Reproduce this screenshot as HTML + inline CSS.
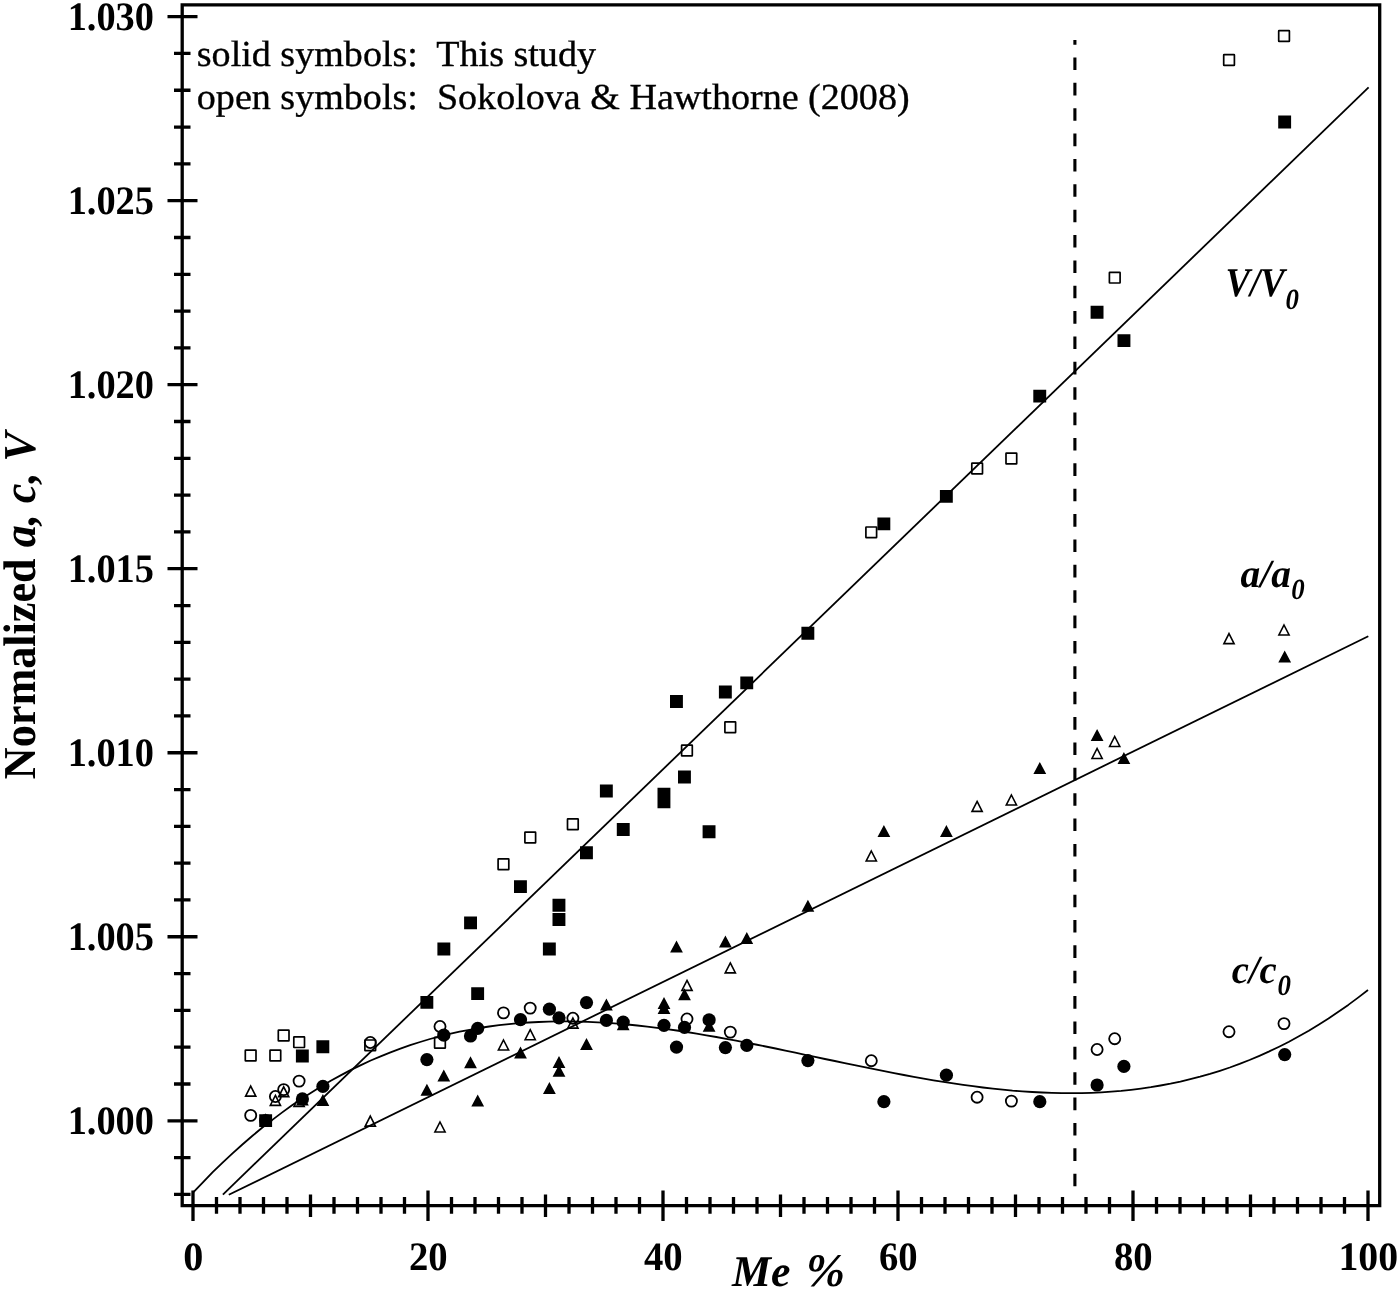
<!DOCTYPE html>
<html lang="en"><head><meta charset="utf-8"><title>Normalized a, c, V vs Me %</title>
<style>html,body{margin:0;padding:0;background:#fff}svg{display:block}text{text-rendering:geometricPrecision;font-family:"Liberation Serif","Times New Roman",Times,serif;fill:#000}</style></head><body>
<svg width="1400" height="1291" viewBox="0 0 1400 1291">
<rect width="1400" height="1291" fill="#fff"/>
<path d="M182.2 4.9H1379.7V1205.6H182.2Z" fill="none" stroke="#000" stroke-width="3.3" stroke-linejoin="miter"/>
<path d="M193.00 1190.5V1221.0M216.50 1197.0V1213.8M240.00 1197.0V1213.8M263.50 1197.0V1213.8M287.00 1197.0V1213.8M310.50 1194.5V1217.0M334.00 1197.0V1213.8M357.50 1197.0V1213.8M381.00 1197.0V1213.8M404.50 1197.0V1213.8M428.00 1190.5V1221.0M451.50 1197.0V1213.8M475.00 1197.0V1213.8M498.50 1197.0V1213.8M522.00 1197.0V1213.8M545.50 1194.5V1217.0M569.00 1197.0V1213.8M592.50 1197.0V1213.8M616.00 1197.0V1213.8M639.50 1197.0V1213.8M663.00 1190.5V1221.0M686.50 1197.0V1213.8M710.00 1197.0V1213.8M733.50 1197.0V1213.8M757.00 1197.0V1213.8M780.50 1194.5V1217.0M804.00 1197.0V1213.8M827.50 1197.0V1213.8M851.00 1197.0V1213.8M874.50 1197.0V1213.8M898.00 1190.5V1221.0M921.50 1197.0V1213.8M945.00 1197.0V1213.8M968.50 1197.0V1213.8M992.00 1197.0V1213.8M1015.50 1194.5V1217.0M1039.00 1197.0V1213.8M1062.50 1197.0V1213.8M1086.00 1197.0V1213.8M1109.50 1197.0V1213.8M1133.00 1190.5V1221.0M1156.50 1197.0V1213.8M1180.00 1197.0V1213.8M1203.50 1197.0V1213.8M1227.00 1197.0V1213.8M1250.50 1194.5V1217.0M1274.00 1197.0V1213.8M1297.50 1197.0V1213.8M1321.00 1197.0V1213.8M1344.50 1197.0V1213.8M1368.00 1190.5V1221.0M174.0 1194.41H190.5M174.0 1157.61H190.5M167.5 1120.80H197.5M174.0 1083.99H190.5M174.0 1047.19H190.5M174.0 1010.38H190.5M174.0 973.58H190.5M167.5 936.77H197.5M174.0 899.97H190.5M174.0 863.16H190.5M174.0 826.36H190.5M174.0 789.55H190.5M167.5 752.75H197.5M174.0 715.94H190.5M174.0 679.14H190.5M174.0 642.34H190.5M174.0 605.53H190.5M167.5 568.72H197.5M174.0 531.92H190.5M174.0 495.12H190.5M174.0 458.31H190.5M174.0 421.50H190.5M167.5 384.70H197.5M174.0 347.89H190.5M174.0 311.09H190.5M174.0 274.28H190.5M174.0 237.48H190.5M167.5 200.67H197.5M174.0 163.87H190.5M174.0 127.06H190.5M174.0 90.26H190.5M174.0 53.45H190.5M167.5 16.65H197.5" fill="none" stroke="#000" stroke-width="3.3"/>
<path d="M1074.9 1186.3V40" fill="none" stroke="#000" stroke-width="3.1" stroke-dasharray="12.6 12.77"/>
<path d="M222.9 1194.6L1368.6 87.4" fill="none" stroke="#000" stroke-width="1.8"/>
<path d="M228.8 1194.8L1368.3 636.2" fill="none" stroke="#000" stroke-width="1.8"/>
<path d="M193.0 1192.7L202.9 1182.3L212.7 1172.2L222.6 1162.6L232.5 1153.4L242.4 1144.5L252.2 1136.0L262.1 1127.8L272.0 1120.1L281.9 1112.6L291.7 1105.5L301.6 1098.8L311.5 1092.4L321.4 1086.3L331.2 1080.5L341.1 1075.1L351.0 1069.9L360.9 1065.1L370.7 1060.5L380.6 1056.3L390.5 1052.3L400.4 1048.6L410.2 1045.1L420.1 1042.0L430.0 1039.0L439.8 1036.4L449.7 1033.9L459.6 1031.7L469.5 1029.8L479.3 1028.0L489.2 1026.5L499.1 1025.2L509.0 1024.1L518.8 1023.2L528.7 1022.5L538.6 1022.0L548.5 1021.6L558.3 1021.4L568.2 1021.4L578.1 1021.6L588.0 1021.9L597.8 1022.3L607.7 1022.9L617.6 1023.7L627.5 1024.5L637.3 1025.5L647.2 1026.6L657.1 1027.8L666.9 1029.1L676.8 1030.5L686.7 1032.0L696.6 1033.6L706.4 1035.3L716.3 1037.0L726.2 1038.8L736.1 1040.7L745.9 1042.6L755.8 1044.5L765.7 1046.5L775.6 1048.5L785.4 1050.6L795.3 1052.7L805.2 1054.8L815.1 1056.9L824.9 1059.0L834.8 1061.0L844.7 1063.1L854.6 1065.2L864.4 1067.2L874.3 1069.2L884.2 1071.2L894.1 1073.1L903.9 1075.0L913.8 1076.8L923.7 1078.6L933.5 1080.3L943.4 1081.9L953.3 1083.4L963.2 1084.9L973.0 1086.2L982.9 1087.5L992.8 1088.6L1002.7 1089.6L1012.5 1090.6L1022.4 1091.3L1032.3 1092.0L1042.2 1092.5L1052.0 1092.9L1061.9 1093.1L1071.8 1093.2L1081.7 1093.1L1091.5 1092.8L1101.4 1092.3L1111.3 1091.7L1121.2 1090.9L1131.0 1089.8L1140.9 1088.6L1150.8 1087.2L1160.6 1085.5L1170.5 1083.7L1180.4 1081.6L1190.3 1079.2L1200.1 1076.7L1210.0 1073.9L1219.9 1070.8L1229.8 1067.5L1239.6 1063.9L1249.5 1060.0L1259.4 1055.8L1269.3 1051.4L1279.1 1046.7L1289.0 1041.7L1298.9 1036.3L1308.8 1030.7L1318.6 1024.7L1328.5 1018.5L1338.4 1011.8L1348.3 1004.9L1358.1 997.6L1368.0 990.0" fill="none" stroke="#000" stroke-width="1.8" stroke-linejoin="round"/>
<g fill="none" stroke="#000" stroke-linejoin="miter"><path d="M250.7 1086.1L255.8 1096.1H245.6Z" stroke-width="1.6"/><circle cx="250.7" cy="1115.4" r="5.55" stroke-width="1.8"/><rect x="245.3" y="1050.1" width="10.7" height="10.7" rx="0.4" stroke-width="1.7"/><path d="M275.4 1095.4L280.5 1105.4H270.3Z" stroke-width="1.6"/><circle cx="275.4" cy="1096.5" r="5.55" stroke-width="1.8"/><rect x="270.0" y="1050.1" width="10.7" height="10.7" rx="0.4" stroke-width="1.7"/><path d="M283.7 1086.8L288.8 1096.8H278.6Z" stroke-width="1.6"/><circle cx="283.7" cy="1089.6" r="5.55" stroke-width="1.8"/><rect x="278.3" y="1030.1" width="10.7" height="10.7" rx="0.4" stroke-width="1.7"/><path d="M299.1 1096.4L304.2 1106.4H294.0Z" stroke-width="1.6"/><circle cx="299.1" cy="1081.1" r="5.55" stroke-width="1.8"/><rect x="293.8" y="1036.8" width="10.7" height="10.7" rx="0.4" stroke-width="1.7"/><path d="M370.3 1116.1L375.4 1126.1H365.2Z" stroke-width="1.6"/><circle cx="370.3" cy="1042.5" r="5.55" stroke-width="1.8"/><rect x="364.9" y="1040.0" width="10.7" height="10.7" rx="0.4" stroke-width="1.7"/><path d="M440.0 1122.0L445.1 1132.0H434.9Z" stroke-width="1.6"/><circle cx="440.0" cy="1026.5" r="5.55" stroke-width="1.8"/><rect x="434.6" y="1037.4" width="10.7" height="10.7" rx="0.4" stroke-width="1.7"/><path d="M503.5 1040.0L508.6 1050.0H498.4Z" stroke-width="1.6"/><circle cx="503.5" cy="1012.9" r="5.55" stroke-width="1.8"/><rect x="498.1" y="858.9" width="10.7" height="10.7" rx="0.4" stroke-width="1.7"/><path d="M530.2 1029.7L535.3 1039.7H525.1Z" stroke-width="1.6"/><circle cx="530.2" cy="1008.1" r="5.55" stroke-width="1.8"/><rect x="524.9" y="832.2" width="10.7" height="10.7" rx="0.4" stroke-width="1.7"/><path d="M572.9 1018.1L578.0 1028.1H567.8Z" stroke-width="1.6"/><circle cx="572.9" cy="1018.2" r="5.55" stroke-width="1.8"/><rect x="567.5" y="818.9" width="10.7" height="10.7" rx="0.4" stroke-width="1.7"/><path d="M687.0 980.4L692.1 990.4H681.9Z" stroke-width="1.6"/><circle cx="687.0" cy="1019.0" r="5.55" stroke-width="1.8"/><rect x="681.6" y="745.2" width="10.7" height="10.7" rx="0.4" stroke-width="1.7"/><path d="M730.3 962.9L735.4 972.9H725.2Z" stroke-width="1.6"/><circle cx="730.3" cy="1032.1" r="5.55" stroke-width="1.8"/><rect x="724.9" y="721.9" width="10.7" height="10.7" rx="0.4" stroke-width="1.7"/><path d="M871.3 851.0L876.4 861.0H866.2Z" stroke-width="1.6"/><circle cx="871.3" cy="1060.7" r="5.55" stroke-width="1.8"/><rect x="865.9" y="527.0" width="10.7" height="10.7" rx="0.4" stroke-width="1.7"/><path d="M977.1 801.4L982.2 811.4H972.0Z" stroke-width="1.6"/><circle cx="977.1" cy="1097.2" r="5.55" stroke-width="1.8"/><rect x="971.8" y="463.2" width="10.7" height="10.7" rx="0.4" stroke-width="1.7"/><path d="M1011.4 795.0L1016.5 805.0H1006.3Z" stroke-width="1.6"/><circle cx="1011.4" cy="1101.1" r="5.55" stroke-width="1.8"/><rect x="1006.0" y="453.1" width="10.7" height="10.7" rx="0.4" stroke-width="1.7"/><path d="M1097.1 748.5L1102.2 758.5H1092.0Z" stroke-width="1.6"/><circle cx="1097.1" cy="1049.5" r="5.55" stroke-width="1.8"/><path d="M1114.7 736.5L1119.8 746.5H1109.6Z" stroke-width="1.6"/><circle cx="1114.7" cy="1038.7" r="5.55" stroke-width="1.8"/><rect x="1109.4" y="272.3" width="10.7" height="10.7" rx="0.4" stroke-width="1.7"/><path d="M1229.0 633.6L1234.1 643.6H1223.9Z" stroke-width="1.6"/><circle cx="1229.0" cy="1031.7" r="5.55" stroke-width="1.8"/><rect x="1223.7" y="54.6" width="10.7" height="10.7" rx="0.4" stroke-width="1.7"/><path d="M1284.0 625.0L1289.1 635.0H1278.9Z" stroke-width="1.6"/><circle cx="1284.0" cy="1023.6" r="5.55" stroke-width="1.8"/><rect x="1278.7" y="30.6" width="10.7" height="10.7" rx="0.4" stroke-width="1.7"/></g>
<path d="M265.7 1113.3L272.1 1125.3H259.3ZM259.2 1114.2h12.9v12.9h-12.9ZM302.4 1093.4L308.8 1105.4H296.0ZM295.9 1049.5h12.9v12.9h-12.9ZM322.9 1094.0L329.3 1106.0H316.5ZM316.4 1040.3h12.9v12.9h-12.9ZM426.9 1083.7L433.3 1095.7H420.5ZM420.4 995.9h12.9v12.9h-12.9ZM443.8 1069.6L450.2 1081.6H437.4ZM437.4 942.5h12.9v12.9h-12.9ZM470.5 1056.2L476.9 1068.2H464.1ZM464.1 916.4h12.9v12.9h-12.9ZM477.7 1094.6L484.1 1106.6H471.3ZM471.2 987.2h12.9v12.9h-12.9ZM520.5 1046.6L526.9 1058.6H514.1ZM514.0 880.2h12.9v12.9h-12.9ZM549.4 1081.9L555.8 1093.9H543.0ZM542.9 942.5h12.9v12.9h-12.9ZM559.0 1064.8L565.4 1076.8H552.6ZM559.0 1055.9L565.4 1067.9H552.6ZM552.5 913.1h12.9v12.9h-12.9ZM552.5 898.8h12.9v12.9h-12.9ZM586.5 1038.0L592.9 1050.0H580.1ZM580.0 846.3h12.9v12.9h-12.9ZM606.4 998.4L612.8 1010.4H600.0ZM599.9 784.6h12.9v12.9h-12.9ZM623.2 1018.3L629.6 1030.3H616.8ZM616.8 823.1h12.9v12.9h-12.9ZM664.0 1002.0L670.4 1014.0H657.6ZM664.0 996.9L670.4 1008.9H657.6ZM657.5 787.8h12.9v12.9h-12.9ZM657.5 795.3h12.9v12.9h-12.9ZM676.5 940.5L682.9 952.5H670.1ZM670.0 695.0h12.9v12.9h-12.9ZM684.5 988.3L690.9 1000.3H678.1ZM678.0 770.6h12.9v12.9h-12.9ZM709.1 1019.8L715.5 1031.8H702.7ZM702.6 825.3h12.9v12.9h-12.9ZM725.4 935.6L731.8 947.6H719.0ZM718.9 685.6h12.9v12.9h-12.9ZM746.8 931.9L753.2 943.9H740.4ZM740.3 676.4h12.9v12.9h-12.9ZM807.9 899.8L814.3 911.8H801.5ZM801.4 626.8h12.9v12.9h-12.9ZM883.9 825.1L890.3 837.1H877.5ZM877.4 517.4h12.9v12.9h-12.9ZM946.4 825.1L952.8 837.1H940.0ZM939.9 489.9h12.9v12.9h-12.9ZM1039.8 761.9L1046.2 773.9H1033.4ZM1033.3 389.7h12.9v12.9h-12.9ZM1097.1 729.1L1103.5 741.1H1090.7ZM1090.6 305.8h12.9v12.9h-12.9ZM1123.9 752.0L1130.3 764.0H1117.5ZM1117.5 334.2h12.9v12.9h-12.9ZM1284.7 650.4L1291.1 662.4H1278.3ZM1278.2 115.5h12.9v12.9h-12.9Z" fill="#000"/>
<g fill="#000"><circle cx="265.7" cy="1120.5" r="6.6"/><circle cx="302.4" cy="1098.9" r="6.6"/><circle cx="322.9" cy="1086.4" r="6.6"/><circle cx="426.9" cy="1059.6" r="6.6"/><circle cx="443.8" cy="1035.2" r="6.6"/><circle cx="470.5" cy="1036.0" r="6.6"/><circle cx="477.7" cy="1028.3" r="6.6"/><circle cx="520.5" cy="1019.7" r="6.6"/><circle cx="549.4" cy="1009.2" r="6.6"/><circle cx="559.0" cy="1017.8" r="6.6"/><circle cx="586.5" cy="1002.6" r="6.6"/><circle cx="606.4" cy="1020.4" r="6.6"/><circle cx="623.2" cy="1022.1" r="6.6"/><circle cx="664.0" cy="1025.3" r="6.6"/><circle cx="676.5" cy="1047.1" r="6.6"/><circle cx="684.5" cy="1027.4" r="6.6"/><circle cx="709.1" cy="1019.9" r="6.6"/><circle cx="725.4" cy="1047.6" r="6.6"/><circle cx="746.8" cy="1045.4" r="6.6"/><circle cx="807.9" cy="1060.6" r="6.6"/><circle cx="883.9" cy="1101.7" r="6.6"/><circle cx="946.4" cy="1075.2" r="6.6"/><circle cx="1039.8" cy="1101.7" r="6.6"/><circle cx="1097.1" cy="1085.0" r="6.6"/><circle cx="1123.9" cy="1066.4" r="6.6"/><circle cx="1284.7" cy="1054.6" r="6.6"/></g>
<text transform="translate(193.3 1270.4) scale(0.995 1)" font-weight="bold" font-size="40.4" text-anchor="middle">0</text>
<text transform="translate(428.3 1270.4) scale(0.958 1)" font-weight="bold" font-size="40.4" text-anchor="middle">20</text>
<text transform="translate(663.3 1270.4) scale(0.958 1)" font-weight="bold" font-size="40.4" text-anchor="middle">40</text>
<text transform="translate(898.3 1270.4) scale(0.958 1)" font-weight="bold" font-size="40.4" text-anchor="middle">60</text>
<text transform="translate(1133.3 1270.4) scale(0.958 1)" font-weight="bold" font-size="40.4" text-anchor="middle">80</text>
<text transform="translate(1368.3 1270.4) scale(0.985 1)" font-weight="bold" font-size="40.4" text-anchor="middle">100</text>
<text transform="translate(154 1134.1) scale(0.95 1)" font-weight="bold" font-size="40.4" text-anchor="end">1.000</text>
<text transform="translate(154 950.1) scale(0.95 1)" font-weight="bold" font-size="40.4" text-anchor="end">1.005</text>
<text transform="translate(154 766.0) scale(0.95 1)" font-weight="bold" font-size="40.4" text-anchor="end">1.010</text>
<text transform="translate(154 582.0) scale(0.95 1)" font-weight="bold" font-size="40.4" text-anchor="end">1.015</text>
<text transform="translate(154 398.0) scale(0.95 1)" font-weight="bold" font-size="40.4" text-anchor="end">1.020</text>
<text transform="translate(154 214.0) scale(0.95 1)" font-weight="bold" font-size="40.4" text-anchor="end">1.025</text>
<text transform="translate(154 29.9) scale(0.95 1)" font-weight="bold" font-size="40.4" text-anchor="end">1.030</text>
<text transform="translate(34.7 779.2) rotate(-90) scale(0.967 1)" font-weight="bold" font-size="45.7" xml:space="preserve" style="white-space:pre">Normalized <tspan font-style="italic">a, c, V</tspan></text>
<text transform="translate(732 1286.3)" font-weight="bold" font-style="italic" font-size="43.8" xml:space="preserve" style="white-space:pre">Me<tspan font-size="46.8" dx="4"> %</tspan></text>
<text transform="translate(196.8 65.7) scale(1.041 1)" font-size="36.6" stroke="#000" stroke-width="0.35" xml:space="preserve" style="white-space:pre">solid symbols:  This study</text>
<text transform="translate(196.8 109) scale(1.041 1)" font-size="36.6" stroke="#000" stroke-width="0.35" xml:space="preserve" style="white-space:pre">open symbols:  Sokolova &amp; Hawthorne (2008)</text>
<text transform="translate(1225.6 296.3) scale(0.9 1)" font-weight="bold" font-style="italic" font-size="40.8">V/V</text>
<text transform="translate(1285.5 309) scale(0.92 1)" font-weight="bold" font-style="italic" font-size="29.2">0</text>
<text transform="translate(1240.5 587) scale(0.985 1)" font-weight="bold" font-style="italic" font-size="40">a/a</text>
<text transform="translate(1291.3 598.8) scale(0.92 1)" font-weight="bold" font-style="italic" font-size="29.2">0</text>
<text transform="translate(1231.7 983) scale(0.965 1)" font-weight="bold" font-style="italic" font-size="40">c/c</text>
<text transform="translate(1277.5 994.8) scale(0.92 1)" font-weight="bold" font-style="italic" font-size="29.2">0</text>
</svg></body></html>
